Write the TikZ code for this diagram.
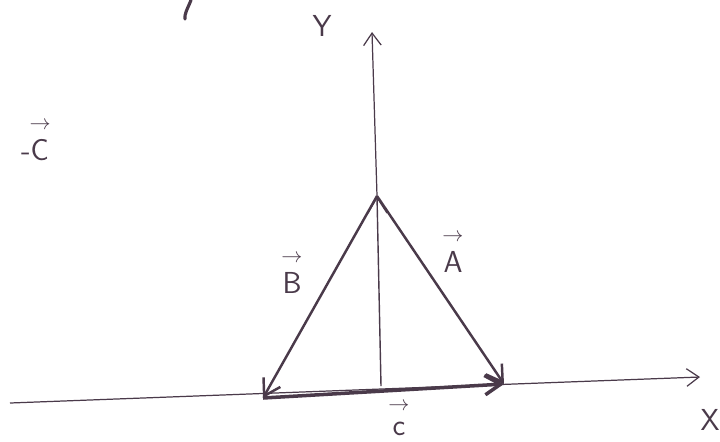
\documentclass[tikz,border=0pt]{standalone}
\usepackage{amsmath}
\usetikzlibrary{arrows.meta,positioning}
\definecolor{pen}{HTML}{4A3A4A}
\tikzset{
    vec/.style={draw=pen, line width=1.4pt, -{Straight Barb[length=9pt,width=11pt]}},
    axis/.style={draw=pen, line width=0.7pt, -{Straight Barb[length=7pt,width=10pt]}},
    lbl/.style={text=pen, font=\LARGE\sffamily, inner sep=1pt},
    arr/.style={text=pen, font=\large, inner sep=0pt}
}
\begin{document}
\begin{tikzpicture}[x=0.02cm, y=-0.02cm]
    \useasboundingbox (0,0) rectangle (720,441);

    % Vertici
    \coordinate (T) at (377,196);
    \coordinate (L) at (263,398);
    \coordinate (R) at (504,384);
    \coordinate (M) at (381,386);

    % Assi
    \coordinate (xa) at (10,403);
    \coordinate (xb) at (700,377);
    \coordinate (yb) at (372,32);
    \draw[axis] (xa) -- (xb);
    \draw[axis] (T) -- (yb);
    \node[lbl] (X) at (710,420) {X};
    \node[lbl] (Y) at (322,26) {Y};

    % Vettori
    \draw[vec] (T) -- (L);
    \draw[vec] (T) -- (R);
    \draw[vec, line width=2pt] (L) -- (R);
    \draw[vec, line width=0.8pt] (M) -- (T);

    % Etichette
    \node[lbl] (Blab) at (292,283) {B};
    \node[arr, above=4pt of Blab] (Barr) {$\rightarrow$};
    \node[lbl] (Alab) at (453,262) {A};
    \node[arr, above=4pt of Alab] (Aarr) {$\rightarrow$};
    \node[lbl] (clab) at (399,429) {c};
    \node[arr, above=5pt of clab] (carr) {$\rightarrow$};
    \node[lbl] (Clab) at (35,150) {-C};
    \node[arr, above=4pt of Clab.north east, anchor=south east] (Carr) {$\rightarrow$};

    % Tratto in alto
    \draw[pen, line width=1.8pt, line cap=round] (191,0) .. controls (188,8) and (184,14) .. (185,19);

\end{tikzpicture}
\end{document}
